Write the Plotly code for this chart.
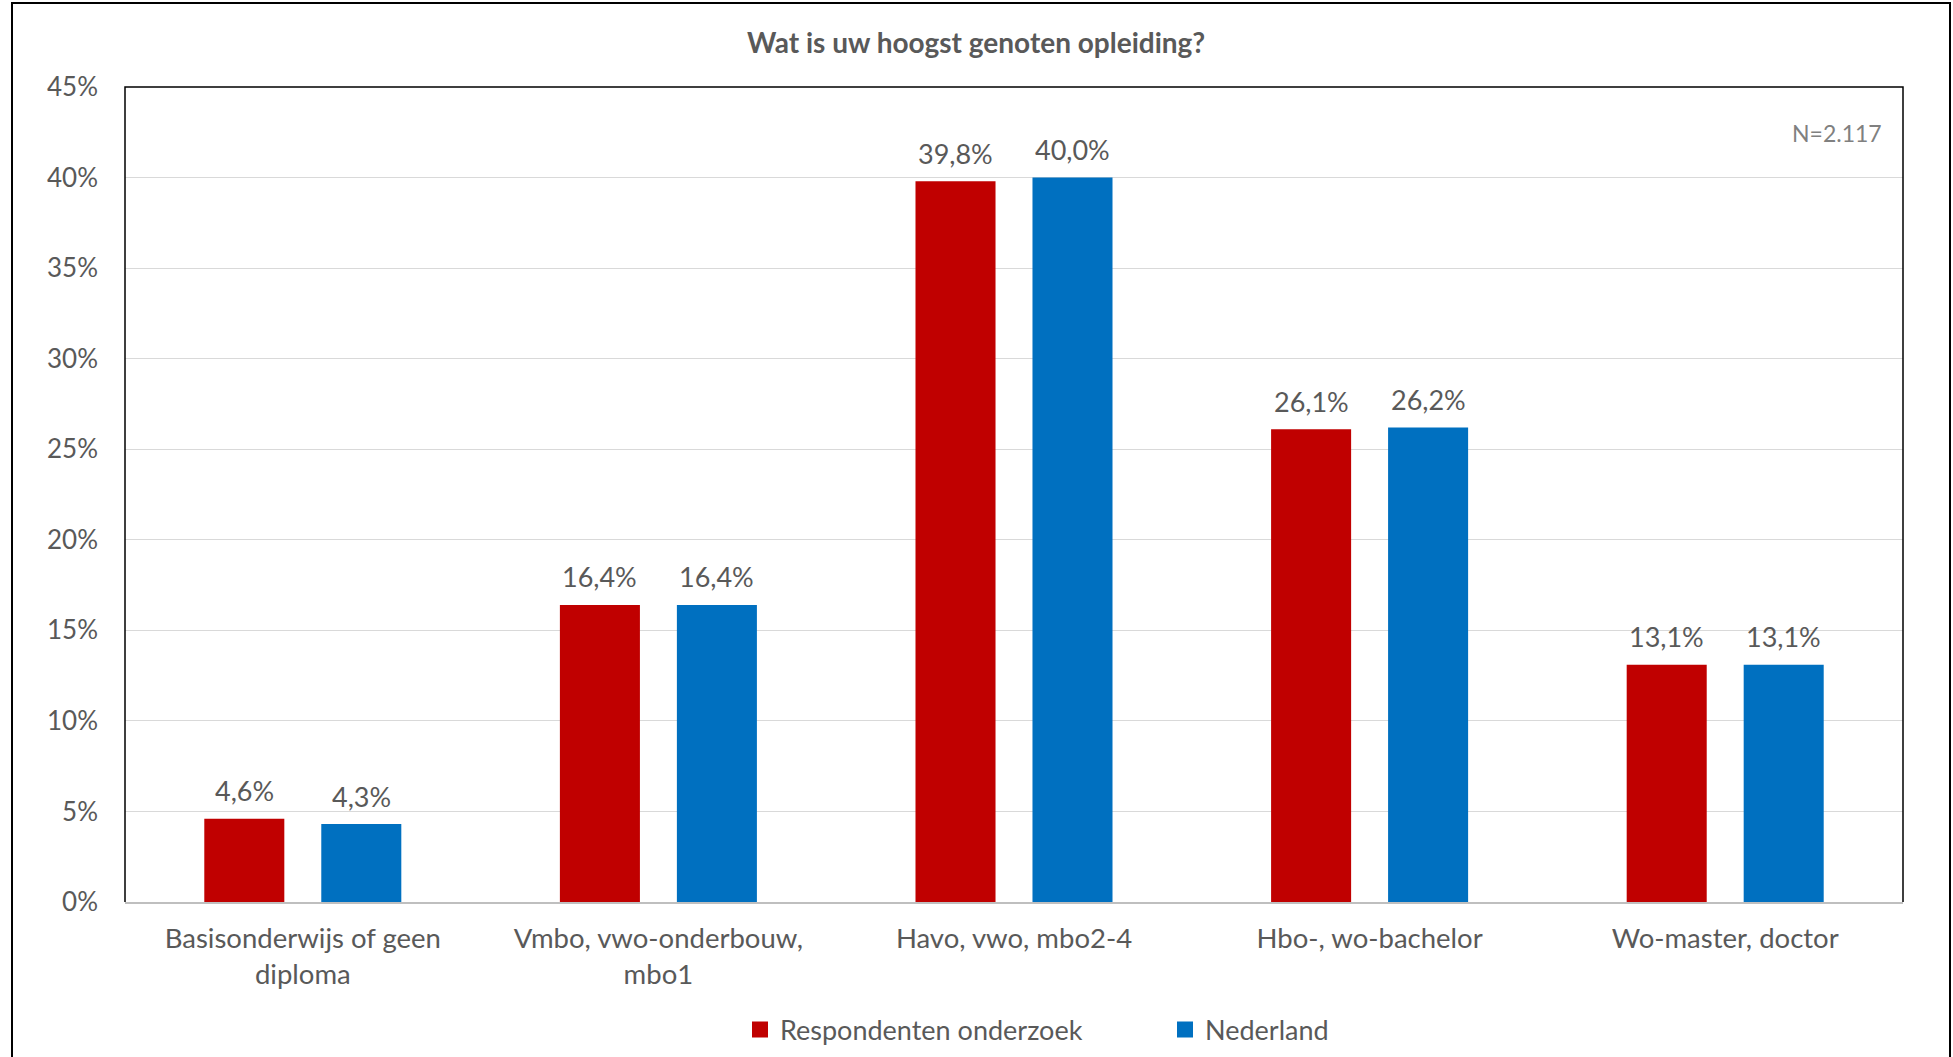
import plotly.graph_objects as go

categories = ["Basisonderwijs of geen<br>diploma", "Vmbo, vwo-onderbouw,<br>mbo1",
              "Havo, vwo, mbo2-4", "Hbo-, wo-bachelor", "Wo-master, doctor"]
respondenten = [4.6, 16.4, 39.8, 26.1, 13.1]
nederland = [4.3, 16.4, 40.0, 26.2, 13.1]
series_names = ["Respondenten onderzoek", "Nederland"]
y_ticks = [0, 5, 10, 15, 20, 25, 30, 35, 40, 45]

RED = "#C00000"
BLUE = "#0070C0"
TXT = "#595959"
FONT = "Lato, 'Open Sans', sans-serif"

W, H = 1953, 1090  # window shows 1057 px; extra room keeps legend from pushing margins
L, T = 125, 87
PR, PB = 1903, 902
R, B = W - PR, H - PB
plot_w = PR - L
ph = PB - T
BARGAP = 0.342
BARGROUPGAP = 0.316
cat_w = plot_w / len(categories)
slot = cat_w * (1 - BARGAP) / 2


def px_x(p):
    return (p - L) / plot_w


def px_y(p):
    return (PB - p) / ph


fig = go.Figure()
for name, vals, col in [(series_names[0], respondenten, RED), (series_names[1], nederland, BLUE)]:
    fig.add_trace(go.Bar(x=categories, y=vals, name=name, showlegend=False,
                         marker=dict(color=col, line=dict(width=0))))
    fig.add_trace(go.Scatter(x=[None], y=[None], name=name, mode="markers",
                             marker=dict(symbol="square", size=16, color=col)))

annotations = []
for vals, sh in [(respondenten, -slot / 2), (nederland, slot / 2)]:
    for c, v in zip(categories, vals):
        annotations.append(dict(x=c, y=v, xref="x", yref="y", text=f"{v:.1f}%".replace(".", ","),
                                showarrow=False, xshift=sh, yshift=28, yanchor="middle",
                                font=dict(family=FONT, size=27, color=TXT)))

annotations.append(dict(x=px_x(1884), y=px_y(133), xref="paper", yref="paper",
                        text="N=2.117", showarrow=False, xanchor="right", yanchor="middle",
                        font=dict(family=FONT, size=23, color="#808080")))
annotations.append(dict(x=px_x(976), y=px_y(42), xref="paper", yref="paper",
                        text="<b>Wat is uw hoogst genoten opleiding?</b>", showarrow=False,
                        xanchor="center", yanchor="middle",
                        font=dict(family=FONT, size=28, color=TXT)))

shapes = [
    dict(type="path", xref="paper", yref="paper", path="M 0 0 L 0 1 L 1 1 L 1 0",
         line=dict(color="black", width=1.5), layer="above"),
    dict(type="rect", xref="paper", yref="paper",
         x0=px_x(12), x1=px_x(1950), y0=px_y(1085), y1=px_y(3),
         line=dict(color="black", width=2), fillcolor="rgba(0,0,0,0)"),
]

fig.update_layout(
    width=W, height=H,
    margin=dict(l=L, r=R, t=T, b=B),
    paper_bgcolor="white", plot_bgcolor="white",
    barmode="group", bargap=BARGAP, bargroupgap=BARGROUPGAP,
    font=dict(family=FONT, color=TXT),
    showlegend=True,
    legend=dict(orientation="h", x=px_x(740), xanchor="left",
                y=px_y(1030), yanchor="middle",
                font=dict(family=FONT, size=27, color=TXT), entrywidth=380,
                itemclick=False, itemdoubleclick=False),
    annotations=annotations,
    shapes=shapes,
)
fig.update_yaxes(range=[0, 45], tickvals=y_ticks, ticktext=[f"{t}%" for t in y_ticks],
                 showgrid=True, gridcolor="#D9D9D9", gridwidth=1, zeroline=False,
                 showline=False, ticks="", ticklabelstandoff=26,
                 tickfont=dict(family=FONT, size=26, color=TXT))
fig.update_xaxes(showline=True, linecolor="#BFBFBF", linewidth=2, ticks="",
                 tickfont=dict(family=FONT, size=27.5, color=TXT), ticklabelstandoff=11)

fig.write_html("out.html", config={"displayModeBar": False},
               post_script="document.body.style.margin='0';document.body.style.overflow='hidden';")
